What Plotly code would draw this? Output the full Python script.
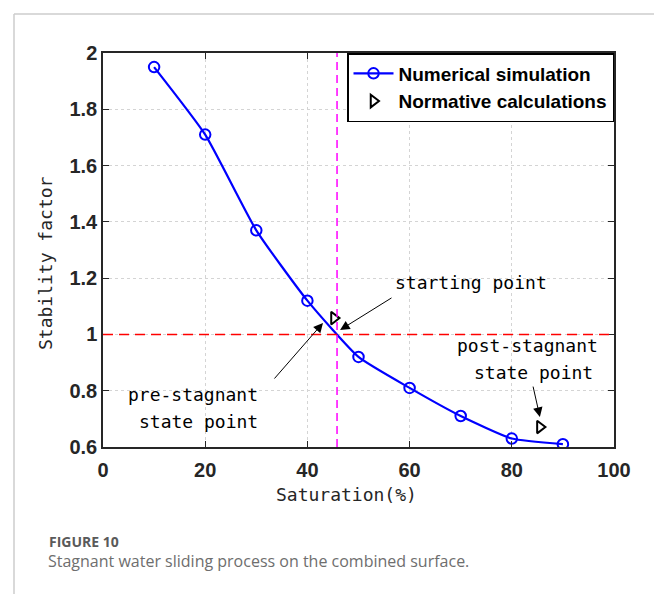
import plotly.graph_objects as go

# ---- data ----
saturation = [10, 20, 30, 40, 50, 60, 70, 80, 90]
stability = [1.95, 1.71, 1.37, 1.12, 0.92, 0.81, 0.71, 0.63, 0.61]
norm_saturation = [45.2, 85.5]
norm_stability = [1.058, 0.671]
threshold = 1.0
critical_saturation = 45.8
x_ticks = [0, 20, 40, 60, 80, 100]
y_ticks = [0.6, 0.8, 1.0, 1.2, 1.4, 1.6, 1.8, 2.0]
y_ticklabels = ["0.6", "0.8", "1", "1.2", "1.4", "1.6", "1.8", "2"]

W, H = 654, 594
L, R, T, B = 103, 40, 53, 147
PW, PH = W - L - R, H - T - B

def px(xp):
    return (xp - L) / PW

def py(yp):
    return (H - B - yp) / PH

fig = go.Figure()

fig.add_trace(go.Scatter(
    x=saturation, y=stability, mode="lines+markers", name="Numerical simulation",
    line=dict(color="#0000FF", width=2.2, shape="spline", smoothing=0.5),
    marker=dict(symbol="circle-open", size=10.5, color="#0000FF", line=dict(width=2, color="#0000FF")),
))
fig.add_trace(go.Scatter(
    x=norm_saturation, y=norm_stability, mode="markers", name="Normative calculations",
    marker=dict(symbol="triangle-right-open", size=11, color="black", line=dict(width=2, color="black")),
))

mono = dict(family="DejaVu Sans Mono", size=18, color="black")
ann = [
    dict(x=72.1, y=1.183, text="starting point", showarrow=False, font=mono, xref="x", yref="y"),
    dict(x=30.7, y=0.785, text="pre-stagnant", showarrow=False, font=mono, xanchor="right", xref="x", yref="y"),
    dict(x=30.7, y=0.689, text="state point", showarrow=False, font=mono, xanchor="right", xref="x", yref="y"),
    dict(x=83.1, y=0.959, text="post-stagnant", showarrow=False, font=mono, xref="x", yref="y"),
    dict(x=84.2, y=0.863, text="state point", showarrow=False, font=mono, xref="x", yref="y"),
]
arrows = [
    ((46.4, 1.016), (56.75, 1.133)),
    ((43.05, 1.041), (33.3, 0.838)),
    ((85.5, 0.707), (84.1, 0.82)),
]
for (hx, hy), (tx, ty) in arrows:
    ann.append(dict(x=hx, y=hy, ax=tx, ay=ty, xref="x", yref="y", axref="x", ayref="y",
                    text="", showarrow=True, arrowhead=2, arrowsize=1.9, arrowwidth=1,
                    arrowcolor="black"))

# axis titles
title_font = dict(family="DejaVu Sans Mono", size=18, color="#262626")
ann.append(dict(x=px(346.5), y=py(494), xref="paper", yref="paper", xanchor="center", yanchor="middle",
                text="Saturation(%)", showarrow=False, font=title_font))
ann.append(dict(x=px(45), y=py(263), xref="paper", yref="paper", xanchor="center", yanchor="middle",
                text="Stability factor", showarrow=False, font=title_font, textangle=-90))

ann.append(dict(x=px(47), y=py(541), xref="paper", yref="paper", xanchor="left", yanchor="middle",
                text="<b>FIGURE 10</b>", showarrow=False,
                font=dict(family="Open Sans", size=14, color="#5a5a5a")))
ann.append(dict(x=px(46), y=py(561), xref="paper", yref="paper", xanchor="left", yanchor="middle",
                text="Stagnant water sliding process on the combined surface.", showarrow=False,
                font=dict(family="Open Sans", size=16, color="#6e6e6e")))

axis_common = dict(
    showline=True, linecolor="#262626", linewidth=1.5, mirror="ticks",
    ticks="inside", ticklen=6, tickwidth=1, tickcolor="#262626",
    showgrid=True, gridcolor="#d4d4d4", griddash="dot", gridwidth=1,
    zeroline=False,
    tickfont=dict(family="Liberation Sans", size=20, color="#262626", weight="bold"),
)

fig.update_layout(
    width=W, height=H, margin=dict(l=L, r=R, t=T, b=B),
    paper_bgcolor="white", plot_bgcolor="white",
    xaxis=dict(range=[0, 100], tickvals=x_ticks, ticklabelstandoff=4, **axis_common),
    yaxis=dict(range=[0.6, 2.0], tickvals=y_ticks, ticktext=y_ticklabels, **axis_common),
    legend=dict(x=1, y=1, xanchor="right", yanchor="top", bgcolor="white",
                bordercolor="black", borderwidth=1.5,
                font=dict(family="Liberation Sans", size=19, color="black", weight="bold"),
                itemwidth=40, tracegroupgap=0),
    annotations=ann, showlegend=True,
)

fig.add_hline(y=threshold, line=dict(color="#FF0000", width=1.5, dash="10px,6px"))
fig.add_vline(x=critical_saturation, line=dict(color="#FF00FF", width=1.5, dash="8px,5px"))
fig.add_shape(type="line", xref="paper", yref="paper", x0=px(14), x1=px(14), y0=py(14), y1=py(H),
              line=dict(color="#cccccc", width=1.5))
fig.add_shape(type="line", xref="paper", yref="paper", x0=px(14), x1=px(W), y0=py(14), y1=py(14),
              line=dict(color="#cccccc", width=1.5))

fig.write_html("out.html")
